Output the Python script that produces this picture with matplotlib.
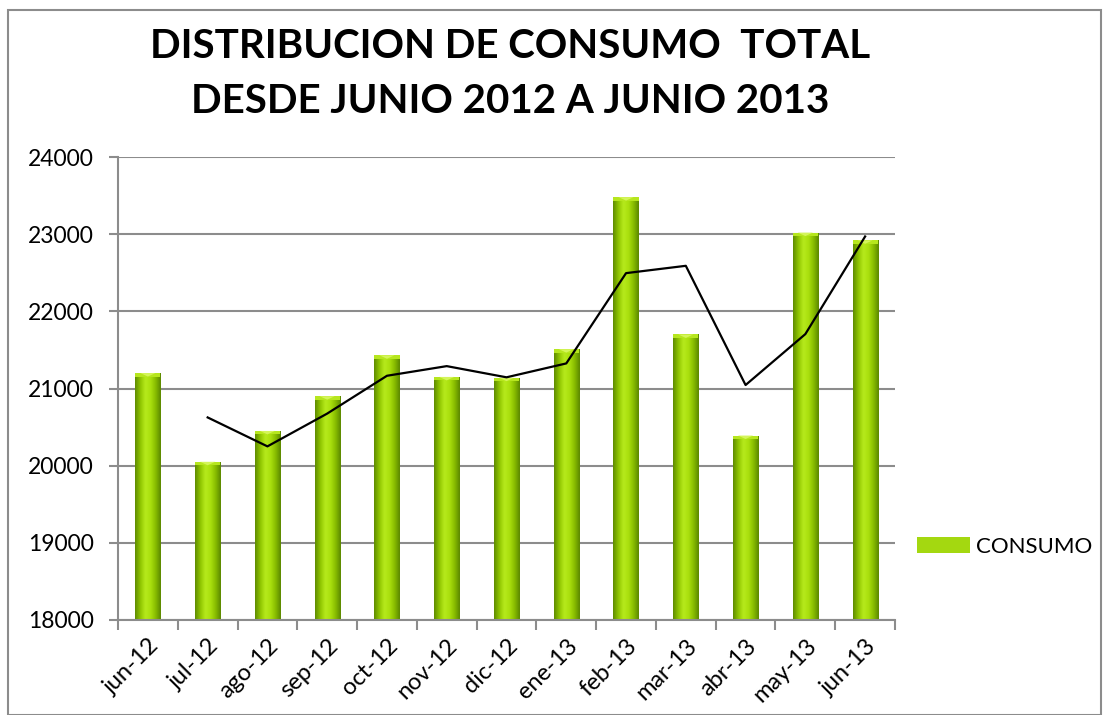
import numpy as np
import matplotlib
matplotlib.use("Agg")
import matplotlib.pyplot as plt
from matplotlib.colors import LinearSegmentedColormap
from matplotlib.patches import Rectangle, Polygon

months = ["jun-12", "jul-12", "ago-12", "sep-12", "oct-12", "nov-12", "dic-12",
          "ene-13", "feb-13", "mar-13", "abr-13", "may-13", "jun-13"]
consumo = [21200, 20050, 20450, 20900, 21430, 21150, 21140,
           21510, 23480, 21700, 20390, 23020, 22920]
media_movil = [None, 20625, 20250, 20675, 21165, 21290, 21145,
               21325, 22495, 22590, 21045, 21705, 22970]
y_ticks = [18000, 19000, 20000, 21000, 22000, 23000, 24000]
title = "DISTRIBUCION DE CONSUMO  TOTAL\nDESDE JUNIO 2012 A JUNIO 2013"

plt.rcParams['font.family'] = ['Lato', 'DejaVu Sans']

fig = plt.figure(figsize=(11.09, 7.15), dpi=100)
ax = fig.add_axes([118/1109, 1-620/715, (895-118)/1109, (620-157)/715])

x = np.arange(len(months))
bars = ax.bar(x, [v - 18000 for v in consumo], bottom=18000, width=0.42,
              color="#96cc00", edgecolor="none", zorder=2)

cmap = LinearSegmentedColormap.from_list(
    "g", ["#5f8c00", "#8fc400", "#b6ea1c", "#aae00e", "#88bc00", "#5c8800"])
grad = np.linspace(0, 1, 64).reshape(1, -1)
for b in bars:
    x0, w = b.get_x(), b.get_width()
    y0, h = b.get_y(), b.get_height()
    im = ax.imshow(grad, cmap=cmap, extent=[x0, x0 + w, y0, y0 + h],
                   aspect="auto", zorder=2.1, interpolation="bicubic")
    im.set_clip_path(b)
    # top bevel
    ax.add_patch(Rectangle((x0, y0 + h - 45), w, 45, facecolor="#b6e61e",
                           edgecolor="none", zorder=2.2))
    ax.add_patch(Polygon([(x0 + w * 0.2, y0 + h), (x0 + w * 0.8, y0 + h),
                          (x0 + w * 0.5, y0 + h - 45)], closed=True,
                         facecolor="#d4f55a", edgecolor="none", zorder=2.3))

xl = [i for i, v in enumerate(media_movil) if v is not None]
yl = [v for v in media_movil if v is not None]
ax.plot(xl, yl, color="black", lw=1.6, zorder=3)

ax.set_xlim(-0.5, len(months) - 0.5)
ax.set_ylim(18000, 24000)
ax.set_yticks(y_ticks)
ax.set_yticklabels([str(t) for t in y_ticks], fontsize=16.5)
ax.yaxis.grid(True, color="#8c8c8c", lw=1.5, zorder=0)
ax.set_axisbelow(True)

ax.set_xticks(np.arange(len(months) + 1) - 0.5)
ax.set_xticklabels([])
ax.set_xticks(x, minor=True)
ax.set_xticklabels(months, minor=True, rotation=45, ha="right",
                   rotation_mode="anchor", fontsize=17)
ax.tick_params(axis="x", which="minor", length=0, pad=11)
ax.tick_params(axis="x", which="major", length=7, width=1.5, color="#8c8c8c")
ax.tick_params(axis="y", length=6.5, width=1.5, color="#8c8c8c", pad=11)

for s in ["top", "right"]:
    ax.spines[s].set_visible(False)
for s in ["left", "bottom"]:
    ax.spines[s].set_color("#8c8c8c")
    ax.spines[s].set_linewidth(1.5)

fig.text(510/1109, 1-74/715, title, ha="center", va="center",
         fontsize=29, fontweight="bold", linespacing=1.6)

leg = ax.legend([bars], ["CONSUMO"], loc="center left",
                bbox_to_anchor=(917/1109, 1-547/715), bbox_transform=fig.transFigure,
                frameon=False, fontsize=16, handlelength=2.4, handleheight=0.7,
                handletextpad=0.25, borderpad=0.0, borderaxespad=0.0)
leg.legend_handles[0].set_facecolor("#a4d810")

fig.patches.append(Rectangle((8/1109, 0), 1 - 16/1109, 1 - 10/715,
                             transform=fig.transFigure, fill=False,
                             edgecolor="#8c8c8c", lw=1.5))

fig.savefig("out.png", dpi=100)
